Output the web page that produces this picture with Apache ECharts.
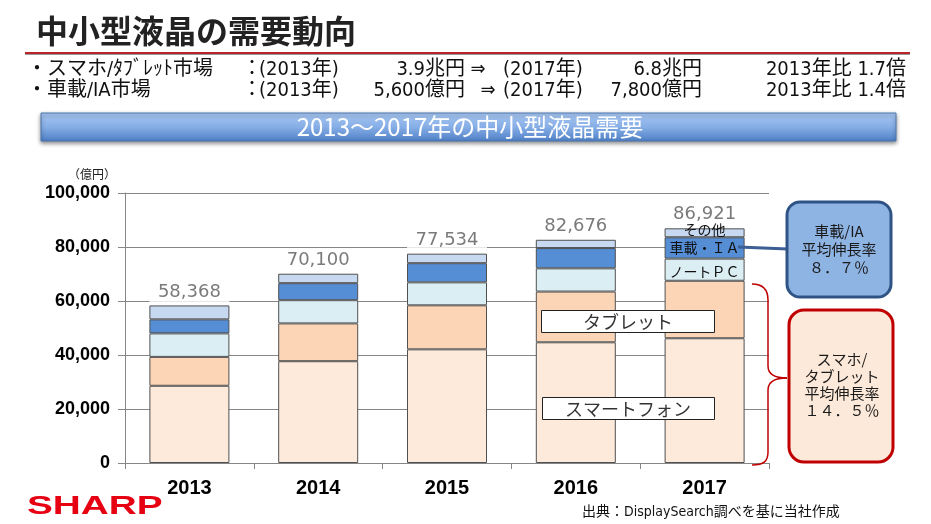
<!DOCTYPE html>
<html><head><meta charset="utf-8">
<script src="https://cdn.jsdelivr.net/npm/echarts@6/dist/echarts.min.js"></script>
<style>html,body{margin:0;padding:0;background:#fff}#c{width:931px;height:524px}</style>
</head><body><div id="c"></div>
<script>
// ---- data ----
const years = ['2013', '2014', '2015', '2016', '2017'];
const seriesNames = ['スマートフォン', 'タブレット', 'ノートPC', '車載・IA', 'その他'];
const smartphone = [28600, 37700, 42100, 44700, 46200];
const tablet     = [10700, 14000, 16300, 18800, 21300];
const notePC     = [8700, 8600, 8500, 8600, 8200];
const automotive = [5200, 6300, 7100, 7500, 7900];
const others     = [5168, 3500, 3534, 3076, 3321];
const totals     = [58368, 70100, 77534, 82676, 86921];
const inBarLabels2017 = { notePC: 'ノートＰＣ', automotive: '車載・ＩＡ', others: 'その他' };
const yMin = 0, yMax = 100000, yStep = 20000;

const CJK = "'Noto Sans CJK JP'";
const NARROW = "'Liberation Sans Narrow','DejaVu Sans Condensed','Noto Sans CJK JP'";
const ARIAL = "'Liberation Sans',Arial";
const colors = ['#FDEADA', '#FBD5B5', '#DBEEF4', '#558ED5', '#C6D9F1'];

function withLastLabel(arr, text, offY) {
  return arr.map((v, i) => i === arr.length - 1 ? {
    value: v,
    label: { show: true, position: 'inside', formatter: text, offset: [0, offY],
      fontFamily: CJK, fontSize: 14, color: '#111' }
  } : v);
}

const chart = echarts.init(document.getElementById('c'), null, { renderer: 'canvas' });
const barBase = { type: 'bar', stack: 'total', barWidth: 80,
  itemStyle: { borderColor: '#505050', borderWidth: 1 } };

function txt(text, x, y, o) {
  o = o || {};
  return { type: 'text', z: 100, x: o.ex || 0, y: o.ey || 0, scaleX: o.scaleX || 1,
    style: { text: text, x: x, y: y, fill: o.fill || '#111',
      fontSize: o.size || 20, fontFamily: o.family || CJK, fontWeight: o.weight || 'normal',
      textAlign: o.align || 'left', textVerticalAlign: 'middle' } };
}
const braceStyle = { fill: 'none', stroke: '#C00000', lineWidth: 1.5 };
function bz(x1, y1, c1x, c1y, c2x, c2y, x2, y2) {
  return { type: 'bezierCurve', z: 100, shape: { x1: x1, y1: y1, cpx1: c1x, cpy1: c1y, cpx2: c2x, cpy2: c2y, x2: x2, y2: y2 }, style: braceStyle };
}
function ln(x1, y1, x2, y2) {
  return { type: 'line', z: 100, shape: { x1: x1, y1: y1, x2: x2, y2: y2 }, style: braceStyle };
}

const r1 = 70, r2 = 91, sub = { size: 20, family: NARROW };
const graphics = [
  txt('中小型液晶の需要動向', 36, 31, { size: 32, weight: 'bold', fill: '#222' }),
  { type: 'rect', shape: { x: 25, y: 54, width: 885, height: 1 }, style: { fill: '#999' }, z: 99 },
  { type: 'rect', shape: { x: 25, y: 52, width: 885, height: 2 }, style: { fill: '#B8242A' }, z: 100 },
  txt('・スマホ/ﾀﾌﾞﾚｯﾄ市場', 27, r1, sub),
  txt('：', 252, r1, Object.assign({ align: 'center' }, sub)),
  txt('(2013年)', 259, r1, sub),
  txt('3.9兆円', 465, r1, Object.assign({ align: 'right' }, sub)),
  txt('⇒', 478, r1, Object.assign({ align: 'center' }, sub)),
  txt('(2017年)', 503, r1, sub),
  txt('6.8兆円', 702, r1, Object.assign({ align: 'right' }, sub)),
  txt('2013年比 1.7倍', 906, r1, Object.assign({ align: 'right' }, sub)),
  txt('・車載/IA市場', 27, r2, sub),
  txt('：', 252, r2, Object.assign({ align: 'center' }, sub)),
  txt('(2013年)', 259, r2, sub),
  txt('5,600億円', 465, r2, Object.assign({ align: 'right' }, sub)),
  txt('⇒', 488, r2, Object.assign({ align: 'center' }, sub)),
  txt('(2017年)', 503, r2, sub),
  txt('7,800億円', 702, r2, Object.assign({ align: 'right' }, sub)),
  txt('2013年比 1.4倍', 906, r2, Object.assign({ align: 'right' }, sub)),
  // banner
  { type: 'rect', z: 98, shape: { x: 41, y: 113, width: 855, height: 28 },
    style: { fill: new echarts.graphic.LinearGradient(0, 0, 0, 1, [
      { offset: 0, color: '#A9C8F3' }, { offset: 0.5, color: '#86AEE6' }, { offset: 1, color: '#4E7FC6' }]),
      stroke: '#4A76B0', lineWidth: 1, shadowBlur: 4, shadowOffsetY: 2, shadowColor: 'rgba(0,0,0,0.45)' } },
  txt('2013～2017年の中小型液晶需要', 470, 127, { size: 24, align: 'center', fill: '#fff' }),
  txt('（億円）', 92, 174, { size: 12, align: 'center', fill: '#222' }),
  // tablet / smartphone label boxes
  { type: 'rect', z: 100, shape: { x: 541.5, y: 310.5, width: 173, height: 22 }, style: { fill: '#fff', stroke: '#222', lineWidth: 1 } },
  txt('タブレット', 628, 322, { size: 18, align: 'center', fill: '#333' }),
  { type: 'rect', z: 100, shape: { x: 542.5, y: 397.5, width: 172, height: 22 }, style: { fill: '#fff', stroke: '#222', lineWidth: 1 } },
  txt('スマートフォン', 628, 409, { size: 18, align: 'center', fill: '#333' }),
  // connector + blue callout
  { type: 'line', z: 100, shape: { x1: 738, y1: 247, x2: 788, y2: 249 }, style: { stroke: '#3C5F94', lineWidth: 3 } },
  { type: 'rect', z: 100, shape: { x: 787, y: 202, width: 104, height: 95, r: 13 },
    style: { fill: '#8EB4E3', stroke: '#2F5385', lineWidth: 3 } },
  txt('車載/IA', 839, 231, { size: 15, align: 'center', fill: '#1a1a1a' }),
  txt('平均伸長率', 839, 249, { size: 15, align: 'center', fill: '#1a1a1a' }),
  txt('８．７％', 839, 267, { size: 15, align: 'center', fill: '#1a1a1a' }),
  // brace
  bz(752, 284, 764, 284, 768, 290, 768, 300),
  ln(768, 300, 768, 366),
  bz(768, 366, 768, 374, 774, 378, 787, 378),
  bz(787, 378, 774, 378, 768, 382, 768, 390),
  ln(768, 390, 768, 452),
  bz(768, 452, 768, 461, 764, 465, 752, 465),
  // red callout
  { type: 'rect', z: 100, shape: { x: 789, y: 310, width: 104, height: 152, r: 15 },
    style: { fill: '#FDE9D9', stroke: '#C00000', lineWidth: 3 } },
  txt('スマホ/', 842, 359, { size: 15, align: 'center', fill: '#1a1a1a' }),
  txt('タブレット', 842, 376, { size: 15, align: 'center', fill: '#1a1a1a' }),
  txt('平均伸長率', 842, 393, { size: 15, align: 'center', fill: '#1a1a1a' }),
  txt('１４．５％', 842, 410, { size: 15, align: 'center', fill: '#1a1a1a' }),
  // logo + source
  txt('SHARP', 0, 0, { ex: 27, ey: 507, scaleX: 1.55, size: 25, weight: 'bold', family: ARIAL, fill: '#E60012' }),
  txt('出典：DisplaySearch調べを基に当社作成', 582, 512, { size: 14, family: NARROW, fill: '#111' })
];

chart.setOption({
  animation: false,
  backgroundColor: '#fff',
  grid: { left: 125, right: 162, top: 193, bottom: 61 },
  xAxis: {
    type: 'category', data: years,
    axisLine: { lineStyle: { color: '#868686', width: 1 } },
    axisTick: { show: true, length: 6, lineStyle: { color: '#868686' } },
    axisLabel: { margin: 15, fontSize: 20, fontWeight: 'bold', color: '#000', fontFamily: ARIAL }
  },
  yAxis: {
    type: 'value', min: yMin, max: yMax, interval: yStep,
    axisLine: { show: true, lineStyle: { color: '#868686' } },
    axisTick: { show: true, length: 7, lineStyle: { color: '#868686' } },
    splitLine: { lineStyle: { color: '#868686', width: 1 } },
    axisLabel: { margin: 15, fontSize: 18, fontWeight: 'bold', color: '#000', fontFamily: ARIAL,
      formatter: v => v.toLocaleString('en-US') }
  },
  series: [
    Object.assign({}, barBase, { name: seriesNames[0], data: smartphone, itemStyle: Object.assign({}, barBase.itemStyle, { color: colors[0] }) }),
    Object.assign({}, barBase, { name: seriesNames[1], data: tablet, itemStyle: Object.assign({}, barBase.itemStyle, { color: colors[1] }) }),
    Object.assign({}, barBase, { name: seriesNames[2], data: withLastLabel(notePC, inBarLabels2017.notePC, 2), itemStyle: Object.assign({}, barBase.itemStyle, { color: colors[2] }) }),
    Object.assign({}, barBase, { name: seriesNames[3], data: withLastLabel(automotive, inBarLabels2017.automotive, 0), itemStyle: Object.assign({}, barBase.itemStyle, { color: colors[3] }) }),
    Object.assign({}, barBase, { name: seriesNames[4], data: withLastLabel(others, inBarLabels2017.others, -3), z: 3, itemStyle: Object.assign({}, barBase.itemStyle, { color: colors[4] }) }),
    { type: 'scatter', name: '合計', data: totals, symbolSize: 1, z: 2,
      itemStyle: { color: 'rgba(0,0,0,0)' },
      label: { show: true, position: 'top', distance: 2, formatter: p => p.value.toLocaleString('en-US'),
        fontFamily: "'DejaVu Sans'", fontSize: 18, color: '#595959',
        backgroundColor: '#fff', width: 80, align: 'center', padding: [1, 0, 2, 0] } }
  ],
  graphic: graphics
});
</script></body></html>
